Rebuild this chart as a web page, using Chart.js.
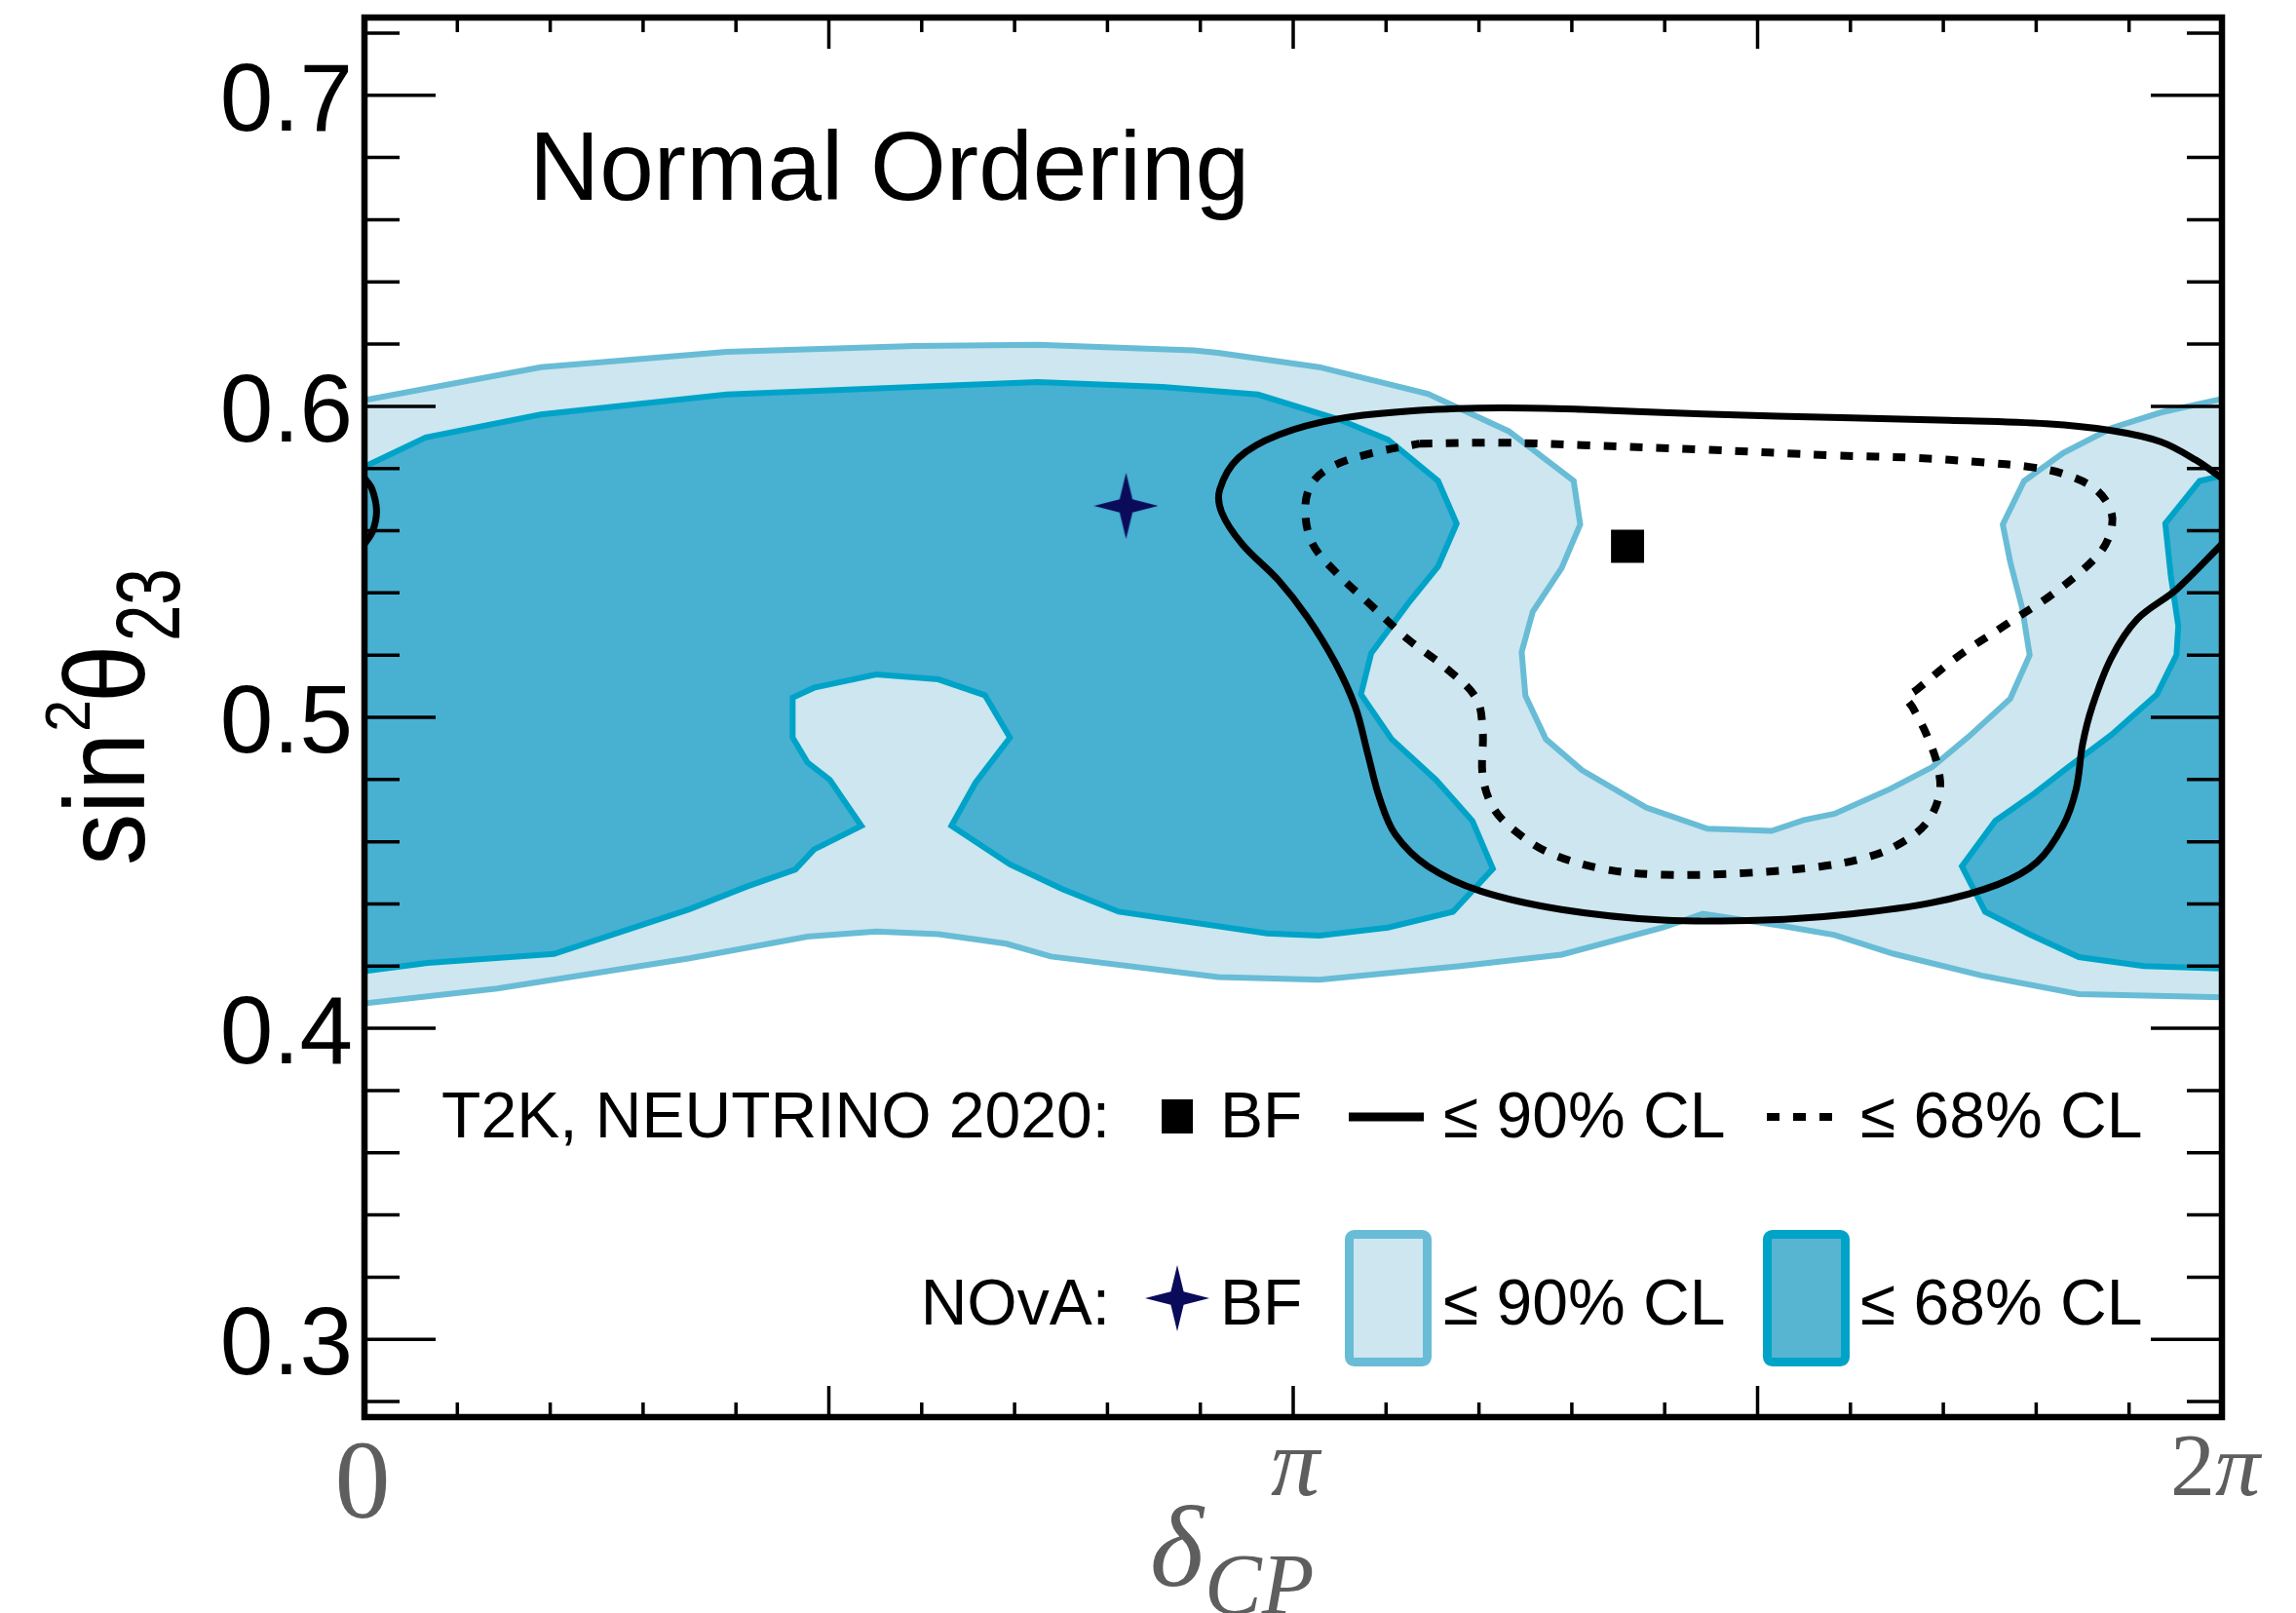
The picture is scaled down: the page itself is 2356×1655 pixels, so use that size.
<!DOCTYPE html>
<html>
<head>
<meta charset="utf-8">
<title>NOvA and T2K, normal ordering</title>
<script src="https://cdn.jsdelivr.net/npm/chart.js@4.4.1/dist/chart.umd.min.js"></script>
<style>
  html, body { margin: 0; padding: 0; background: #fff; }
  canvas { display: block; }
</style>
</head>
<body>
<canvas id="contours" width="2356" height="1655"></canvas>
<script>
// delta_CP is kept in units of pi (0 .. 2), sin^2(theta_23) as is

// NOvA, <= 90% CL (band across the whole range, cut from above by a U)
const nova90X = [0.000, 0.190, 0.390, 0.592, 0.725, 0.893, 0.919, 1.028, 1.145, 1.232,
                 1.302, 1.309, 1.289, 1.258, 1.246, 1.250, 1.272, 1.311, 1.380, 1.446,
                 1.515, 1.550, 1.583, 1.643, 1.688, 1.727, 1.772, 1.793, 1.785, 1.772,
                 1.764, 1.787, 1.829, 1.881, 1.934, 2.000, 2.000, 1.846, 1.741, 1.646,
                 1.583, 1.525, 1.441, 1.398, 1.289, 1.180, 1.028, 0.919, 0.739, 0.691,
                 0.618, 0.551, 0.477, 0.350, 0.143, 0.000, 0.000];
const nova90Y = [0.6020, 0.6126, 0.6175, 0.6194, 0.6198, 0.6180, 0.6172, 0.6126, 0.6040, 0.5920,
                 0.5760, 0.5620, 0.5480, 0.5340, 0.5210, 0.5070, 0.4930, 0.4830, 0.4710, 0.4642,
                 0.4635, 0.4670, 0.4690, 0.4770, 0.4840, 0.4937, 0.5060, 0.5200, 0.5350, 0.5500,
                 0.5620, 0.5760, 0.5850, 0.5930, 0.5980, 0.6024, 0.4100, 0.4110, 0.4170, 0.4240,
                 0.4300, 0.4330, 0.4368, 0.4324, 0.4237, 0.4200, 0.4156, 0.4165, 0.4231, 0.4272,
                 0.4303, 0.4311, 0.4295, 0.4225, 0.4128, 0.4080, 0.6020];

// NOvA, <= 68% CL, main island (with the notch near 0.6 pi)
const nova68LeftX = [0.000, 0.066, 0.190, 0.390, 0.592, 0.725, 0.859, 0.962, 1.049, 1.102,
                     1.156, 1.176, 1.156, 1.124, 1.084, 1.073, 1.106, 1.154, 1.193, 1.215,
                     1.172, 1.102, 1.028, 0.972, 0.812, 0.752, 0.695, 0.632, 0.658, 0.695,
                     0.668, 0.618, 0.551, 0.484, 0.461, 0.461, 0.477, 0.501, 0.535, 0.484,
                     0.464, 0.411, 0.350, 0.204, 0.068, 0.000, 0.000];
const nova68LeftY = [0.5806, 0.5900, 0.5974, 0.6038, 0.6062, 0.6078, 0.6062, 0.6038, 0.5958, 0.5893,
                     0.5760, 0.5623, 0.5485, 0.5367, 0.5206, 0.5074, 0.4930, 0.4798, 0.4667, 0.4513,
                     0.4375, 0.4324, 0.4298, 0.4305, 0.4375, 0.4447, 0.4527, 0.4651, 0.4790, 0.4935,
                     0.5071, 0.5122, 0.5138, 0.5095, 0.5063, 0.4935, 0.4855, 0.4799, 0.4651, 0.4575,
                     0.4511, 0.4455, 0.4383, 0.4239, 0.4210, 0.4184, 0.5806];

// NOvA, <= 68% CL, piece wrapping in at 2 pi
const nova68RightX = [2.000, 1.976, 1.939, 1.945, 1.953, 1.951, 1.930, 1.881, 1.832, 1.798,
                      1.756, 1.720, 1.745, 1.793, 1.846, 1.916, 2.000, 2.000];
const nova68RightY = [0.5777, 0.5760, 0.5623, 0.5454, 0.5294, 0.5200, 0.5074, 0.4944, 0.4834, 0.4755,
                      0.4667, 0.4521, 0.4375, 0.4302, 0.4229, 0.4200, 0.4192, 0.5777];

// T2K, <= 90% CL (open at 2 pi, closes through the small arc at 0)
const t2k90X = [2.000, 1.972, 1.934, 1.881, 1.811, 1.706, 1.601, 1.441, 1.311, 1.224,
                1.136, 1.049, 0.984, 0.941, 0.921, 0.923, 0.945, 0.984, 1.015, 1.045,
                1.067, 1.080, 1.093, 1.110, 1.145, 1.202, 1.289, 1.398, 1.507, 1.601,
                1.688, 1.759, 1.801, 1.829, 1.843, 1.850, 1.860, 1.881, 1.909, 1.951, 2.000];
const t2k90Y = [0.5769, 0.5827, 0.5886, 0.5922, 0.5944, 0.5955, 0.5963, 0.5975, 0.5990, 0.5995,
                0.5987, 0.5960, 0.5908, 0.5834, 0.5733, 0.5659, 0.5557, 0.5441, 0.5323, 0.5177,
                0.5032, 0.4886, 0.4740, 0.4623, 0.4521, 0.4441, 0.4382, 0.4348, 0.4348, 0.4368,
                0.4404, 0.4463, 0.4535, 0.4652, 0.4769, 0.4914, 0.5032, 0.5192, 0.5316, 0.5411, 0.5557];
const t2k90WrapX = [0.000, 0.008, 0.013, 0.009, 0.000];
const t2k90WrapY = [0.5769, 0.5735, 0.5665, 0.5600, 0.5557];

// T2K, <= 68% CL
const t2k68X = [1.136, 1.224, 1.311, 1.441, 1.583, 1.672, 1.741, 1.793, 1.829, 1.864,
                1.881, 1.879, 1.864, 1.818, 1.769, 1.714, 1.672, 1.661, 1.667, 1.682,
                1.694, 1.696, 1.682, 1.654, 1.619, 1.567, 1.485, 1.398, 1.333, 1.276,
                1.237, 1.215, 1.204, 1.204, 1.197, 1.163, 1.124, 1.084, 1.045, 1.021,
                1.013, 1.019, 1.041, 1.084, 1.136];
const t2k68Y = [0.5880, 0.5883, 0.5875, 0.5861, 0.5842, 0.5834, 0.5820, 0.5805, 0.5783, 0.5733,
                0.5659, 0.5585, 0.5513, 0.5397, 0.5301, 0.5192, 0.5090, 0.5062, 0.5032, 0.4944,
                0.4842, 0.4755, 0.4661, 0.4595, 0.4551, 0.4520, 0.4499, 0.4494, 0.4513, 0.4564,
                0.4639, 0.4711, 0.4813, 0.4958, 0.5062, 0.5162, 0.5250, 0.5360, 0.5469, 0.5557,
                0.5659, 0.5747, 0.5805, 0.5849, 0.5880];

// best fits
const t2kBestX = [1.36];
const t2kBestY = [0.555];
const novaBestX = [0.82];
const novaBestY = [0.568];

// axes
const xTickValues = [];
for (let i = 0; i <= 20; i++) xTickValues.push(i / 10);
const xMajorValues = [0, 0.5, 1, 1.5, 2];
const yTickValues = [];
for (let i = 14; i <= 36; i++) yTickValues.push(i / 50);
const yLabelValues = [0.3, 0.4, 0.5, 0.6, 0.7];
const yTickLabels = ['0.3', '0.4', '0.5', '0.6', '0.7'];

const SANS = '"Liberation Sans", Arial, Helvetica, sans-serif';
const SERIF = '"Liberation Serif", "Times New Roman", serif';

const LIGHT_FILL = '#cde6ef', LIGHT_LINE = '#68bcd6';
const DARK_FILL = '#48b0d1', DARK_LINE = '#00a3c8';
const NAVY = '#0b0b5c';

const pts = (xs, ys) => xs.map((x, i) => ({x: x, y: ys[i]}));
const near = (list, v) => list.some(m => Math.abs(m - v) < 1e-6);

// four pointed star used for the NOvA best fit
function starImage(w, h, color) {
  const c = document.createElement('canvas');
  c.width = w; c.height = h;
  const g = c.getContext('2d');
  const cx = w / 2, cy = h / 2, rx = w / 2, ry = h / 2, k = 0.2;
  g.fillStyle = color;
  g.beginPath();
  g.moveTo(cx, cy - ry);
  g.lineTo(cx + rx * k, cy - ry * k);
  g.lineTo(cx + rx, cy);
  g.lineTo(cx + rx * k, cy + ry * k);
  g.lineTo(cx, cy + ry);
  g.lineTo(cx - rx * k, cy + ry * k);
  g.lineTo(cx - rx, cy);
  g.lineTo(cx - rx * k, cy - ry * k);
  g.closePath();
  g.fill();
  return c;
}
const star = starImage(66, 68, NAVY);

// frame, inward ticks, labels and the key
const frame = {
  id: 'frame',
  afterDatasetsDraw(chart) {
    const {ctx, chartArea: a, scales: {x, y}} = chart;
    ctx.save();
    ctx.strokeStyle = '#000';
    ctx.lineWidth = 3.5;
    ctx.beginPath();
    x.ticks.forEach(t => {
      const px = x.getPixelForValue(t.value);
      const len = near(xMajorValues, t.value) ? 32 : 15;
      ctx.moveTo(px, a.bottom); ctx.lineTo(px, a.bottom - len);
      ctx.moveTo(px, a.top); ctx.lineTo(px, a.top + len);
    });
    y.ticks.forEach(t => {
      const py = y.getPixelForValue(t.value);
      const len = near(yLabelValues, t.value) ? 73 : 36;
      ctx.moveTo(a.left, py); ctx.lineTo(a.left + len, py);
      ctx.moveTo(a.right, py); ctx.lineTo(a.right - len, py);
    });
    ctx.stroke();
    ctx.lineWidth = 6.5;
    ctx.strokeRect(a.left, a.top, a.right - a.left, a.bottom - a.top);

    // y tick labels
    ctx.fillStyle = '#000';
    ctx.font = `98px ${SANS}`;
    ctx.textAlign = 'right';
    ctx.textBaseline = 'alphabetic';
    yLabelValues.forEach((v, i) => ctx.fillText(yTickLabels[i], a.left - 12, y.getPixelForValue(v) + 36));

    // x tick labels, 0 / pi / 2pi
    ctx.fillStyle = '#5e5e5e';
    ctx.textAlign = 'center';
    ctx.font = `114px ${SERIF}`;
    ctx.fillText('0', x.getPixelForValue(0) - 2, a.bottom + 103);
    ctx.font = `italic 100px ${SERIF}`;
    ctx.fillText('π', x.getPixelForValue(1) + 2, a.bottom + 80);
    ctx.textAlign = 'left';
    ctx.font = `92px ${SERIF}`;
    const x2 = x.getPixelForValue(2) - 53;
    ctx.fillText('2', x2, a.bottom + 80);
    const w2 = ctx.measureText('2').width;
    ctx.font = `italic 92px ${SERIF}`;
    ctx.fillText('π', x2 + w2, a.bottom + 80);

    // x title
    ctx.font = `italic 118px ${SERIF}`;
    ctx.fillText('δ', 1180, 1627);
    ctx.font = `italic 88px ${SERIF}`;
    ctx.fillText('CP', 1236, 1655);

    // y title, rotated
    ctx.save();
    ctx.fillStyle = '#000';
    ctx.translate(148, 888);
    ctx.rotate(-Math.PI / 2);
    ctx.textAlign = 'left';
    const part = (text, size, u, v, k) => {
      ctx.save();
      ctx.font = `${size}px ${SANS}`;
      ctx.translate(u, v);
      ctx.scale(k, 1);
      ctx.fillText(text, 0, 0);
      ctx.restore();
    };
    part('sin', 117, 0, 0, 0.91);
    part('2', 64, 137, -56, 0.93);
    part('θ', 117, 167, 0, 0.91);
    part('23', 92, 230, 36, 0.73);
    ctx.restore();

    // heading
    ctx.fillStyle = '#000';
    ctx.font = `100px ${SANS}`;
    ctx.textAlign = 'left';
    ctx.fillText('Normal Ordering', 543, 205);

    // key
    ctx.font = `66px ${SANS}`;
    ctx.textAlign = 'right';
    ctx.fillText('T2K, NEUTRINO 2020:', 1139, 1167);
    ctx.fillText('NOvA:', 1139, 1359);
    ctx.textAlign = 'left';
    ctx.fillRect(1192, 1128, 32, 35);
    ctx.fillText('BF', 1252, 1167);
    ctx.lineWidth = 9;
    ctx.beginPath(); ctx.moveTo(1384, 1146); ctx.lineTo(1461, 1146); ctx.stroke();
    ctx.fillText('≤ 90% CL', 1481, 1167);
    ctx.setLineDash([13, 14]);
    ctx.lineWidth = 8;
    ctx.beginPath(); ctx.moveTo(1813, 1146); ctx.lineTo(1881, 1146); ctx.stroke();
    ctx.setLineDash([]);
    ctx.fillText('≤ 68% CL', 1909, 1167);

    ctx.drawImage(star, 1208 - 33, 1332 - 34);
    ctx.fillText('BF', 1252, 1359);
    ctx.lineWidth = 9;
    ctx.fillStyle = LIGHT_FILL; ctx.strokeStyle = LIGHT_LINE;
    ctx.beginPath(); ctx.roundRect(1384.5, 1266.5, 80, 131, 5); ctx.fill(); ctx.stroke();
    ctx.fillStyle = '#58b5d1'; ctx.strokeStyle = DARK_LINE;
    ctx.beginPath(); ctx.roundRect(1813.5, 1266.5, 80, 131, 5); ctx.fill(); ctx.stroke();
    ctx.fillStyle = '#000';
    ctx.fillText('≤ 90% CL', 1481, 1359);
    ctx.fillText('≤ 68% CL', 1909, 1359);
    ctx.restore();
  }
};

const region = (xs, ys, fillColor, lineColor, order) => ({
  data: pts(xs, ys),
  backgroundColor: fillColor,
  borderColor: lineColor,
  borderWidth: 6,
  fill: 'shape',
  tension: 0,
  pointRadius: 0,
  order: order
});

const curve = (xs, ys, dash) => ({
  data: pts(xs, ys),
  borderColor: '#000',
  borderWidth: dash ? 8 : 7,
  borderDash: dash || [],
  borderCapStyle: 'butt',
  fill: false,
  tension: 0.35,
  pointRadius: 0,
  order: 1
});

new Chart(document.getElementById('contours'), {
  type: 'line',
  data: {
    datasets: [
      {
        data: pts(novaBestX, novaBestY),
        showLine: false,
        pointStyle: star,
        pointRadius: 10,
        order: 0
      },
      {
        data: pts(t2kBestX, t2kBestY),
        showLine: false,
        pointStyle: 'rect',
        pointRadius: 24,
        pointBackgroundColor: '#000',
        pointBorderWidth: 0,
        order: 0
      },
      curve(t2k68X, t2k68Y, [13, 14]),
      curve(t2k90X, t2k90Y),
      curve(t2k90WrapX, t2k90WrapY),
      region(nova68LeftX, nova68LeftY, DARK_FILL, DARK_LINE, 2),
      region(nova68RightX, nova68RightY, DARK_FILL, DARK_LINE, 2),
      region(nova90X, nova90Y, LIGHT_FILL, LIGHT_LINE, 3)
    ]
  },
  options: {
    responsive: false,
    animation: false,
    devicePixelRatio: 1,
    layout: {
      autoPadding: false,
      padding: {left: 374, right: 76, top: 18, bottom: 201}
    },
    plugins: {
      legend: {display: false},
      tooltip: {enabled: false}
    },
    scales: {
      x: {
        type: 'linear',
        min: 0,
        max: 2,
        afterBuildTicks: axis => { axis.ticks = xTickValues.map(v => ({value: v})); },
        ticks: {display: false},
        grid: {display: false, drawTicks: false},
        border: {display: false}
      },
      y: {
        type: 'linear',
        min: 0.275,
        max: 0.725,
        afterBuildTicks: axis => { axis.ticks = yTickValues.map(v => ({value: v})); },
        ticks: {display: false},
        grid: {display: false, drawTicks: false},
        border: {display: false}
      }
    }
  },
  plugins: [frame]
});
</script>
</body>
</html>
